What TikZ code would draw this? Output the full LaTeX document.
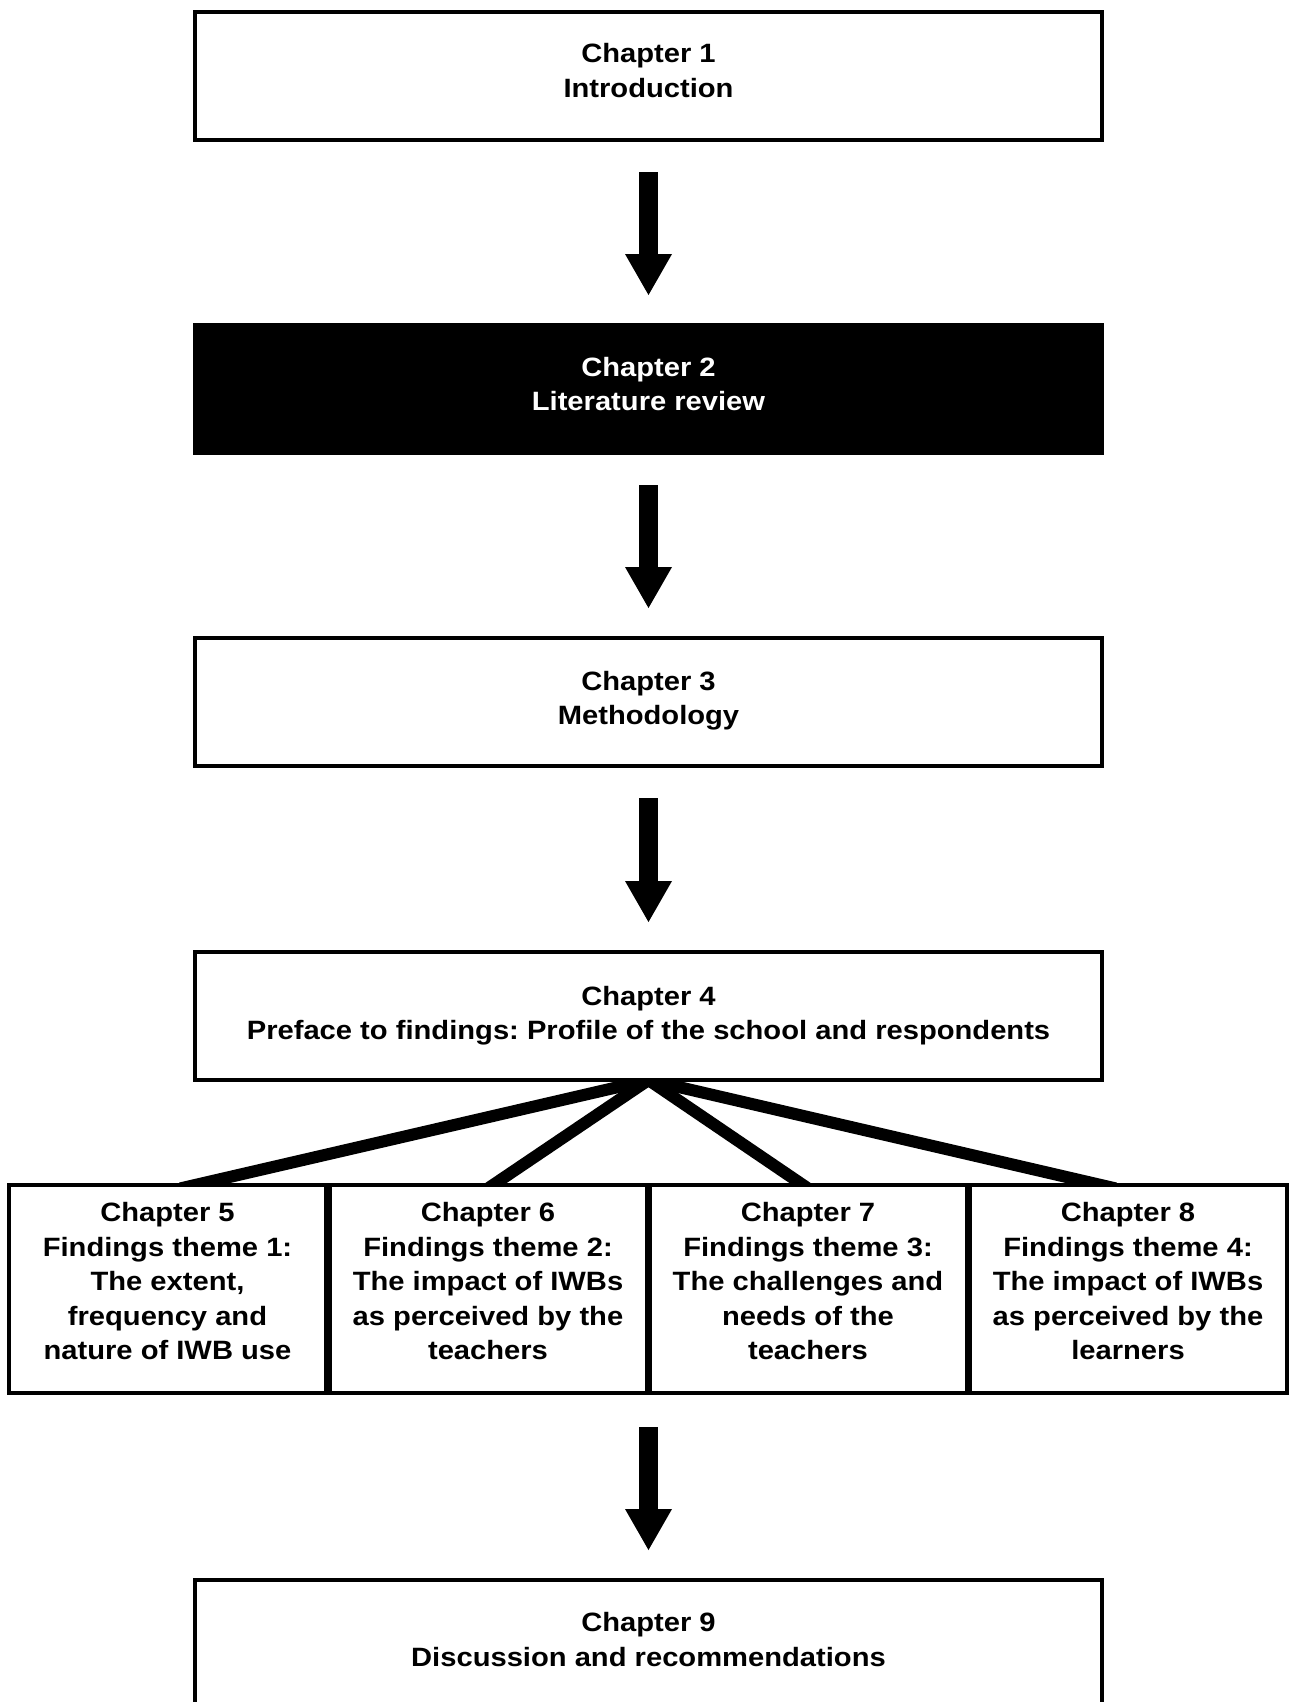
\documentclass[tikz,border=0pt]{standalone}
\usepackage{fontspec}
\setmainfont[FakeStretch=1.1]{Liberation Sans}
\usetikzlibrary{arrows.meta,backgrounds}
\begin{document}
\frenchspacing
\begin{tikzpicture}[x=1pt,y=-1pt,
  box/.style={draw=black, line width=4pt, fill=white, rectangle, inner sep=0pt, outer sep=0pt,
    minimum width=907pt, minimum height=128pt},
  darkbox/.style={box, fill=black},
  subbox/.style={box, minimum width=317pt, minimum height=208pt},
  txt/.style={inner sep=0pt, align=center, font=\fontsize{26.5}{34.5}\selectfont\bfseries},
  bigarrow/.style={line width=19pt, -{Triangle[length=41pt,width=47pt,line width=0pt]},
    shorten <=32pt, shorten >=30pt},
  spoke/.style={line width=12pt, shorten >=-15pt}]
\useasboundingbox (0,0) rectangle (1288,1702);
\node[box] (b1) at (648.5,76) {};
\node[darkbox] (b2) at (648.5,389) {};
\node[box] (b3) at (648.5,702) {};
\node[box] (b4) at (648.5,1016) {};
\node[subbox] (c5) at (167.5,1289) {};
\node[subbox] (c6) at (488,1289) {};
\node[subbox] (c7) at (808,1289) {};
\node[subbox] (c8) at (1128,1289) {};
\node[box] (b9) at (648.5,1644) {};
\node[txt, yshift=5.5pt] (b1t) at (b1) {Chapter 1\\Introduction};
\node[txt, yshift=5pt, text=white] (b2t) at (b2) {Chapter 2\\Literature review};
\node[txt, yshift=1.5pt] (b3t) at (b3) {Chapter 3\\Methodology};
\node[txt, yshift=0.5pt] (b4t) at (b4) {Chapter 4\\Preface to findings: Profile of the school and respondents};
\node[txt, yshift=7.5pt] (c5t) at (c5) {Chapter 5\\Findings theme 1:\\The extent,\\frequency and\\nature of IWB use};
\node[txt, yshift=7.5pt] (c6t) at (c6) {Chapter 6\\Findings theme 2:\\The impact of IWBs\\as perceived by the\\teachers};
\node[txt, yshift=7.5pt] (c7t) at (c7) {Chapter 7\\Findings theme 3:\\The challenges and\\needs of the\\teachers};
\node[txt, yshift=7.5pt] (c8t) at (c8) {Chapter 8\\Findings theme 4:\\The impact of IWBs\\as perceived by the\\learners};
\node[txt, yshift=4.5pt] (b9t) at (b9) {Chapter 9\\Discussion and recommendations};
\coordinate (t5) at (195,1185);
\coordinate (t6) at (493,1185);
\coordinate (t7) at (803,1185);
\coordinate (t8) at (1101,1185);
\coordinate (cb) at (648.5,1393);
\begin{scope}[on background layer]
\draw[spoke] (b4.south) -- (t5);
\draw[spoke] (b4.south) -- (t6);
\draw[spoke] (b4.south) -- (t7);
\draw[spoke] (b4.south) -- (t8);
\end{scope}
\draw[bigarrow] (b1) -- (b2);
\draw[bigarrow] (b2) -- (b3);
\draw[bigarrow] (b3) -- (b4);
\draw[bigarrow, shorten <=34pt] (cb) -- (b9);
\end{tikzpicture}
\end{document}
